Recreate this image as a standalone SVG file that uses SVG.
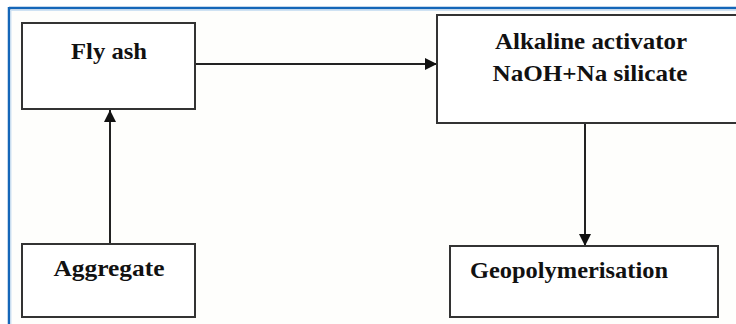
<svg xmlns="http://www.w3.org/2000/svg" width="736" height="324" viewBox="0 0 736 324">
  <defs>
    <marker id="arr" viewBox="0 0 12 12" refX="12" refY="6" markerWidth="12" markerHeight="12" markerUnits="userSpaceOnUse" orient="auto">
      <path d="M0,0 L12,6 L0,12 Z" fill="#111"/>
    </marker>
  </defs>
  <style>
    .box { fill: #ffffff; stroke: #333333; stroke-width: 2; }
    .lbl { font-family: 'Liberation Serif', serif; font-weight: 700; font-size: 24px; fill: #111111; text-anchor: middle; }
    .conn { stroke: #222222; stroke-width: 2; fill: none; }
  </style>
  <rect x="0" y="0" width="736" height="324" fill="#ffffff"/>
  <rect x="10" y="9" width="726" height="315" fill="#fefefc"/>
  <g id="frame">
    <line x1="9" y1="8" x2="736" y2="8" stroke="#1466b8" stroke-width="2.5"/>
    <line x1="9" y1="7" x2="9" y2="324" stroke="#1466b8" stroke-width="2.5"/>
    <line x1="10.5" y1="10.5" x2="736" y2="10.5" stroke="#cfe2f3" stroke-width="1"/>
    <line x1="11" y1="10" x2="11" y2="324" stroke="#cfe2f3" stroke-width="1"/>
  </g>
  <g id="connectors">
    <line class="conn" x1="110" y1="244" x2="110" y2="110" marker-end="url(#arr)"/>
    <line class="conn" x1="195" y1="64" x2="437" y2="64" marker-end="url(#arr)"/>
    <line class="conn" x1="585" y1="123" x2="585" y2="246" marker-end="url(#arr)"/>
  </g>
  <g id="fly-ash">
    <rect class="box" x="22" y="23" width="173" height="86"/>
    <text class="lbl" x="109" y="59" textLength="76" lengthAdjust="spacingAndGlyphs">Fly ash</text>
  </g>
  <g id="alkaline-activator">
    <rect class="box" x="437" y="15" width="310" height="108"/>
    <text class="lbl" x="591" y="49" textLength="192" lengthAdjust="spacingAndGlyphs">Alkaline activator</text>
    <text class="lbl" x="590" y="81" textLength="195" lengthAdjust="spacingAndGlyphs">NaOH+Na silicate</text>
  </g>
  <g id="aggregate">
    <rect class="box" x="22" y="244" width="173" height="73"/>
    <text class="lbl" x="109" y="276" textLength="111" lengthAdjust="spacingAndGlyphs">Aggregate</text>
  </g>
  <g id="geopolymerisation">
    <rect class="box" x="450" y="246" width="268" height="71"/>
    <text class="lbl" x="569" y="278" textLength="198" lengthAdjust="spacingAndGlyphs">Geopolymerisation</text>
  </g>
</svg>
